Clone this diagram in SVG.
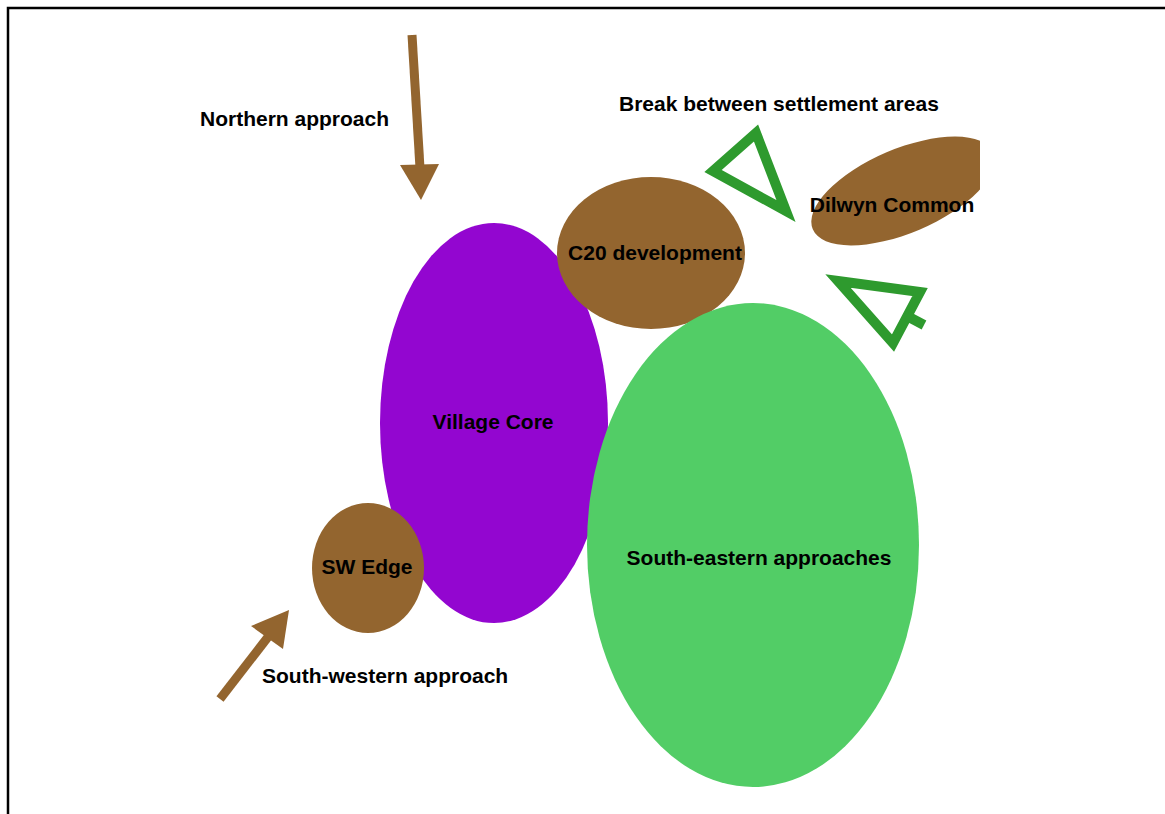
<svg xmlns="http://www.w3.org/2000/svg" width="1165" height="814" viewBox="0 0 1165 814">
<defs>
<style>
.lbl{font-family:"Liberation Sans",Arial,sans-serif;font-weight:bold;font-size:21px;fill:#000}
.brown{fill:#93652F}
.tree{fill:none;stroke:#2E9A2E;stroke-width:10;stroke-linejoin:miter}
.arr{stroke:#93652F;stroke-width:9;fill:none}
</style>
<clipPath id="clipR"><rect x="0" y="0" width="980" height="814"/></clipPath>
</defs>
<rect x="0" y="0" width="1165" height="814" fill="#fff"/>
<path d="M8,814 V8 H1165" fill="none" stroke="#000" stroke-width="2.5"/>
<g id="connectors">
<g id="north-arrow">
<line class="arr" x1="412" y1="35" x2="420" y2="168"/>
<polygon class="brown" points="400,165 439,164 421,200"/>
</g>
<g id="sw-arrow">
<line class="arr" x1="220" y1="699" x2="268" y2="637"/>
<polygon class="brown" points="251,626 283,649 289,610"/>
</g>
</g>
<g id="village-core"><ellipse cx="494" cy="423" rx="114" ry="200" fill="#9306D0"/><text class="lbl" x="493" y="429" text-anchor="middle">Village Core</text></g>
<g id="c20"><ellipse class="brown" cx="651" cy="253" rx="94" ry="76"/></g>
<g id="se"><ellipse cx="753" cy="545" rx="166" ry="242" fill="#52CD66"/><text class="lbl" x="759" y="565" text-anchor="middle">South-eastern approaches</text></g>
<g id="c20-label"><text class="lbl" x="655" y="260" text-anchor="middle">C20 development</text></g>
<g id="sw-edge"><ellipse class="brown" cx="368" cy="568" rx="56" ry="65"/><text class="lbl" x="367" y="574" text-anchor="middle">SW Edge</text></g>
<g id="dilwyn"><g clip-path="url(#clipR)"><ellipse class="brown" cx="903" cy="191" rx="98" ry="42" transform="rotate(-23 903 191)"/></g><text class="lbl" x="892" y="212" text-anchor="middle">Dilwyn Common</text></g>
<g id="tree1"><polygon class="tree" points="756,133 713,171 786,211"/></g>
<g id="tree2"><polygon class="tree" points="838,281 920,292 893,343"/><line class="tree" x1="907" y1="316" x2="924" y2="325"/></g>
<text class="lbl" x="200" y="126">Northern approach</text>
<text class="lbl" x="619" y="111">Break between settlement areas</text>
<text class="lbl" x="262" y="683">South-western approach</text>
</svg>
